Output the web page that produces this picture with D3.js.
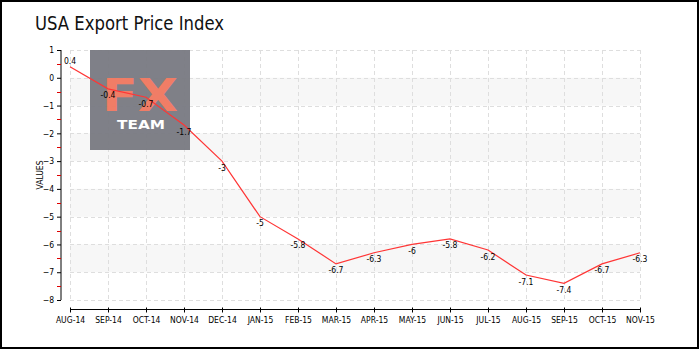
<!DOCTYPE html>
<html>
<head>
<meta charset="utf-8">
<script src="https://cdn.jsdelivr.net/npm/d3@7"></script>
<style>
  html, body { margin: 0; padding: 0; background: #fff; }
  svg { display: block; }
  .tick-text { font-family: "DejaVu Sans Condensed", "DejaVu Sans", sans-serif; font-size: 8.5px; fill: #000; }
</style>
</head>
<body>
<svg id="chart" width="700" height="350"></svg>
<script>
// Monthly USA export price index (y/y %)
const months = ["AUG-14", "SEP-14", "OCT-14", "NOV-14", "DEC-14", "JAN-15", "FEB-15", "MAR-15",
                "APR-15", "MAY-15", "JUN-15", "JUL-15", "AUG-15", "SEP-15", "OCT-15", "NOV-15"];
const values = [0.4, -0.4, -0.7, -1.7, -3, -5, -5.8, -6.7, -6.3, -6, -5.8, -6.2, -7.1, -7.4, -6.7, -6.3];
const yTicks = [1, 0, -1, -2, -3, -4, -5, -6, -7, -8];
const yMinorTicks = [0.5, -0.5, -1.5, -2.5, -3.5, -4.5, -5.5, -6.5, -7.5];
const bandStarts = [0, -2, -4, -6];
const title = "USA Export Price Index";
const yTitle = "VALUES";

const svg = d3.select("#chart");
const W = 700, H = 350;
const plot = { left: 70, right: 640, top: 50, bottom: 300 };

const x = d3.scalePoint().domain(months).range([plot.left, plot.right]);
const y = d3.scaleLinear().domain([-8, 1]).range([plot.bottom, plot.top]);

// outer frame
svg.append("rect").attr("x", 1).attr("y", 1).attr("width", W - 3).attr("height", H - 3)
  .attr("fill", "#fff").attr("stroke", "#000").attr("stroke-width", 2);

// title
svg.append("text").attr("x", 35).attr("y", 30)
  .attr("font-family", "'DejaVu Sans Condensed', 'Liberation Sans Narrow', sans-serif")
  .attr("font-size", 20).attr("fill", "#111")
  .attr("textLength", 189).attr("lengthAdjust", "spacingAndGlyphs")
  .text(title);

// alternating bands
svg.append("g").selectAll("rect").data(bandStarts).join("rect")
  .attr("x", plot.left).attr("width", plot.right - plot.left)
  .attr("y", d => y(d)).attr("height", d => y(d - 1) - y(d))
  .attr("fill", "#f7f7f7");

// grid
const grid = svg.append("g").attr("stroke", "#dedede").attr("stroke-dasharray", "4,3").attr("stroke-width", 1);
grid.selectAll("line.h").data(yTicks).join("line").attr("class", "h")
  .attr("x1", plot.left).attr("x2", plot.right)
  .attr("y1", d => Math.round(y(d)) + 0.5).attr("y2", d => Math.round(y(d)) + 0.5);
grid.selectAll("line.v").data(months).join("line").attr("class", "v")
  .attr("y1", plot.top).attr("y2", plot.bottom)
  .attr("x1", d => Math.round(x(d)) + 0.5).attr("x2", d => Math.round(x(d)) + 0.5);

// logo
const logo = svg.append("g").attr("opacity", 0.95);
logo.append("rect").attr("x", 90).attr("y", 50).attr("width", 100).attr("height", 100).attr("fill", "#797a82");
logo.append("text").attr("x", 140).attr("y", 111).attr("text-anchor", "middle")
  .attr("font-family", "'DejaVu Sans', sans-serif").attr("font-weight", "bold")
  .attr("font-size", 44).attr("fill", "#f0775f")
  .attr("textLength", 76).attr("lengthAdjust", "spacingAndGlyphs").text("FX");
logo.append("text").attr("x", 141).attr("y", 129).attr("text-anchor", "middle")
  .attr("font-family", "'DejaVu Sans', sans-serif").attr("font-weight", "bold")
  .attr("font-size", 13).attr("fill", "#ffffff")
  .attr("textLength", 48).attr("lengthAdjust", "spacingAndGlyphs").text("TEAM");

// y axis
const yAxis = svg.append("g").attr("transform", "translate(61,0)")
  .call(d3.axisLeft(y).tickValues(yTicks).tickSize(4).tickPadding(3).tickFormat(d3.format("d")));
yAxis.select(".domain").attr("stroke", "#000").attr("d", `M0,${plot.top}V${plot.bottom}`);
yAxis.selectAll(".tick line").attr("stroke", "#000");
yAxis.selectAll(".tick text").attr("class", "tick-text");
svg.append("g").selectAll("line").data(yMinorTicks).join("line")
  .attr("x1", 57).attr("x2", 61)
  .attr("y1", d => Math.round(y(d)) + 0.5).attr("y2", d => Math.round(y(d)) + 0.5)
  .attr("stroke", "#e00000");

svg.append("text").attr("class", "tick-text")
  .attr("transform", `translate(43,${(plot.top + plot.bottom) / 2}) rotate(-90)`)
  .attr("text-anchor", "middle").text(yTitle);

// x axis
const xAxis = svg.append("g").attr("transform", "translate(0,309.5)")
  .call(d3.axisBottom(x).tickSize(0).tickPadding(7));
xAxis.select(".domain").attr("stroke", "#000").attr("d", `M${plot.left},0H${plot.right}`);
xAxis.selectAll(".tick").append("line").attr("y1", -2).attr("y2", 3).attr("stroke", "#000");
xAxis.selectAll(".tick text").attr("class", "tick-text");

// series line
const line = d3.line().x((d, i) => x(months[i])).y(d => y(d));
svg.append("path").datum(values).attr("d", line)
  .attr("fill", "none").attr("stroke", "#ff3535").attr("stroke-width", 1.2);

// value labels
svg.append("g").selectAll("text").data(values).join("text")
  .attr("class", "tick-text")
  .attr("x", (d, i) => x(months[i]))
  .attr("y", d => y(d) + (d >= 0 ? -3 : 7))
  .attr("dy", d => d >= 0 ? 0 : "0.3em")
  .attr("text-anchor", "middle")
  .text(d => d);
</script>
</body>
</html>
